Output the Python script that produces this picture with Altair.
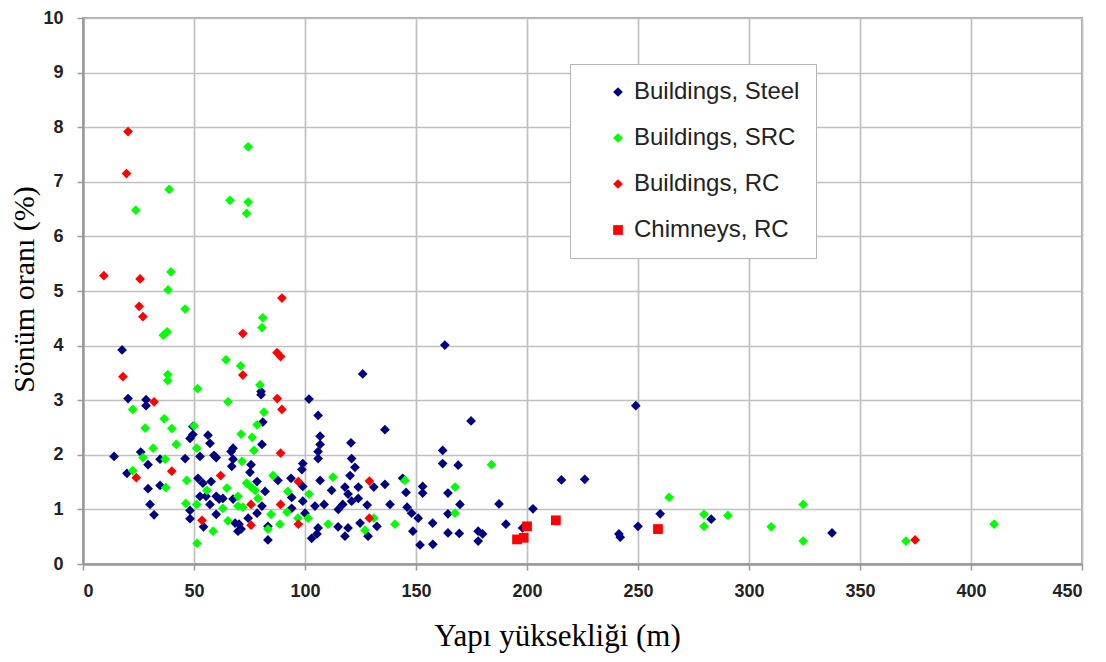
import altair as alt
import pandas as pd

series_names = ["Buildings, Steel", "Buildings, SRC", "Buildings, RC", "Chimneys, RC"]
series_colors = ["#000080", "#00FF00", "#FF0000", "#FF0000"]
series_shapes = ["diamond", "diamond", "diamond", "square"]
series_sizes = [95, 95, 95, 150]

x_ticks = [0, 50, 100, 150, 200, 250, 300, 350, 400, 450]
y_ticks = [0, 1, 2, 3, 4, 5, 6, 7, 8, 9, 10]

steel_h = [17.6, 14, 19.8, 20.3, 28.4, 28.4, 26, 29.3, 34.7, 29.3, 34.7, 30.2, 32,
           46, 49.5, 48.2, 49.5, 56.3, 57.2, 52.7, 59, 51.8, 54, 57.7, 52.7, 57.2, 48.2, 48.2, 54.3, 61.3, 60, 60, 60, 63, 55.4,
           67.6, 67.6, 67, 66.7, 75.7, 75.2, 67.6, 70.3, 74.4, 71.2, 78.4, 68.5, 69.8,
           80.2, 80.2, 81, 80.6, 78.4, 82, 80.6, 83.3, 83.3, 87.8, 93.7, 94, 94, 99, 98.6, 99, 99, 100,
           101.8, 105.9, 106.8, 106.8, 105.9, 105.9, 106.8, 104.5, 108.6, 105.9, 103, 105.4, 112, 118, 117, 114.9, 118, 115,
           120.7, 121, 122.5, 120.3, 119.4, 124, 124, 121, 128, 124.8, 119.4, 128.4, 126, 131, 132.4,
           136, 136, 138.3, 144, 145.5, 146, 148, 151, 148.6, 151.8, 153, 153, 157.5, 157.6,
           163, 162, 162, 169, 164.4, 169.8, 164.4, 164.4, 169.5, 174.8, 178, 178, 180, 187.4, 190.5, 198, 202.7,
           215.5, 226, 241.4, 242, 249, 250, 260, 283, 337.4]
steel_d = [3.92, 1.97, 1.66, 3.03, 3.01, 2.9, 2.05, 1.82, 1.92, 1.38, 1.44, 1.09, 0.9,
           1.93, 2.52, 2.3, 2.37, 2.36, 2.21, 1.97, 1.99, 1.57, 1.48, 1.51, 1.24, 1.09, 0.98, 0.83, 0.68, 1.19, 0.91, 1.95, 1.24, 1.2, 1.24,
           2.12, 1.92, 1.79, 2.06, 1.82, 1.68, 1.19, 0.73, 0.84, 0.64, 0.93, 0.75, 0.6,
           3.16, 3.1, 2.6, 2.19, 1.51, 1.33, 1.06, 0.69, 0.44, 1.53, 1.57, 1.22, 1.02, 1.84, 1.73, 1.42, 1.15, 0.93,
           3.02, 2.72, 2.34, 2.19, 2.06, 1.93, 1.53, 1.06, 1.09, 0.66, 0.47, 0.55, 1.35, 1.41, 1.09, 0.68, 0.51, 1.0,
           2.22, 1.93, 1.77, 1.62, 1.28, 1.41, 1.2, 1.15, 1.08, 0.75, 0.66, 0.51, 3.48, 1.41, 0.69,
           2.46, 1.46, 1.09, 1.57, 1.31, 1.04, 0.93, 0.84, 0.6, 0.35, 1.42, 1.3, 0.75, 0.36,
           4.01, 2.08, 1.84, 1.81, 1.3, 1.09, 0.92, 0.57, 0.56, 2.62, 0.6, 0.42, 0.55, 1.1, 0.73, 0.66, 1.01,
           1.54, 1.55, 0.55, 0.49, 2.9, 0.69, 0.92, 0.82, 0.57]

src_h = [74.4, 38.8, 23.8, 66.2, 74.4, 73.7, 39.6, 38.3, 46, 81, 80.6, 36.2, 37.9,
         64.4, 71, 38.2, 38.2, 51.6, 65.3, 22.4, 36.6, 28, 40, 50, 42, 31.6, 71.2, 76.2, 51.2, 27, 37, 22.4,
         37.3, 46.7, 55.8, 64.8, 46.3, 51.2, 63, 72, 58.6, 51.4, 65.3, 73.7, 77.5, 79.7, 81.5, 78.4, 77, 71.6,
         85.6, 112.6, 75.7, 92.3, 69.8, 101.8, 78.8, 69.8, 84.7, 91.9, 88.7, 96.8, 101.4, 110.4, 83.3,
         145, 167.6, 167.6, 140.5, 131, 127, 184, 264, 279.7, 279.7, 290.5, 310, 324.4, 324.4, 370.7, 410.4]
src_d = [7.64, 6.86, 6.48, 6.66, 6.63, 6.42, 5.35, 5.02, 4.67, 4.51, 4.33, 4.19, 4.25,
         3.74, 3.63, 3.47, 3.36, 3.21, 2.97, 2.83, 2.66, 2.49, 2.48, 2.53, 2.19, 2.12, 2.38, 2.32, 2.12, 1.95, 1.92, 1.71,
         1.4, 1.53, 1.35, 1.39, 1.11, 1.09, 1.02, 1.04, 0.6, 0.38, 0.79, 1.48, 1.35, 3.28, 2.78, 2.55, 2.08, 1.88,
         1.62, 1.59, 1.41, 1.33, 1.24, 1.28, 1.2, 1.06, 0.91, 0.95, 0.73, 0.84, 0.84, 0.73, 0.64,
         1.53, 1.41, 0.93, 0.73, 0.84, 0.62, 1.82, 1.22, 0.91, 0.69, 0.89, 0.68, 1.09, 0.42, 0.42, 0.73]

rc_h = [9.4, 20.3, 19.6, 25.7, 25.3, 27, 18, 32, 24, 40, 62, 53.6, 72, 72, 75.7, 75.7,
        89.6, 87.4, 89, 87.5, 89.6, 89, 97, 89, 97, 129, 129, 374.8]
rc_d = [5.28, 7.92, 7.15, 5.22, 4.72, 4.53, 3.43, 2.97, 1.58, 1.7, 1.62, 0.8, 4.22, 3.46, 1.09, 0.71,
        4.87, 3.87, 3.8, 3.03, 2.83, 2.03, 1.51, 1.09, 0.73, 1.52, 0.84, 0.44]

chim_h = [195.5, 198.5, 200, 213, 259]
chim_d = [0.45, 0.48, 0.69, 0.8, 0.64]

frames = []
for name, hs, ds in zip(series_names, [steel_h, src_h, rc_h, chim_h], [steel_d, src_d, rc_d, chim_d]):
    frames.append(pd.DataFrame({"h": hs, "d": ds, "series": name}))
df = pd.concat(frames, ignore_index=True)

chart = alt.Chart(df).mark_point(filled=True, opacity=1, strokeWidth=0).encode(
    x=alt.X("h:Q", scale=alt.Scale(domain=[0, 450], nice=False),
            axis=alt.Axis(values=x_ticks, title="Yapı yüksekliği  (m)",
                          titleX=474, titleY=72, titleAlign="center", titleBaseline="middle",
                          titleFontSize=31)),
    y=alt.Y("d:Q", scale=alt.Scale(domain=[0, 10], nice=False),
            axis=alt.Axis(values=y_ticks, title="Sönüm oranı (%)",
                          titleX=-59, titleY=271, titleAlign="center", titleBaseline="middle",
                          titleFontSize=30)),
    color=alt.Color("series:N", scale=alt.Scale(domain=series_names, range=series_colors),
                    legend=alt.Legend(title=None, orient="none", legendX=487, legendY=46)),
    shape=alt.Shape("series:N", scale=alt.Scale(domain=series_names, range=series_shapes)),
    size=alt.Size("series:N", scale=alt.Scale(domain=series_names, range=series_sizes)),
).properties(
    width=999, height=546,
    autosize=alt.AutoSizeParams(type="none"),
    padding={"left": 75, "top": 10, "right": 16, "bottom": 90},
).configure_view(
    stroke="#a8a8a8", strokeWidth=2
).configure_axis(
    labelFont="Liberation Sans", labelFontWeight="bold", labelFontSize=18, labelColor="#222222",
    titleFont="Liberation Serif", titleFontWeight="normal", titleColor="#000000",
    gridColor="#c0c0c0", gridWidth=1.7, domainColor="#9a9a9a", domainWidth=2.5,
    tickColor="#9a9a9a", tickSize=6, tickWidth=1.5
).configure_axisY(
    labelPadding=14
).configure_axisX(
    labelPadding=12
).configure_legend(
    labelFont="Liberation Sans", labelFontSize=24, labelColor="#222222",
    strokeColor="#b5b5b5", fillColor="#ffffff", padding=16, symbolOffset=20,
    rowPadding=22, labelOffset=4, labelLimit=400
)

chart.save("out.html", embed_options={"renderer": "svg", "actions": False})
